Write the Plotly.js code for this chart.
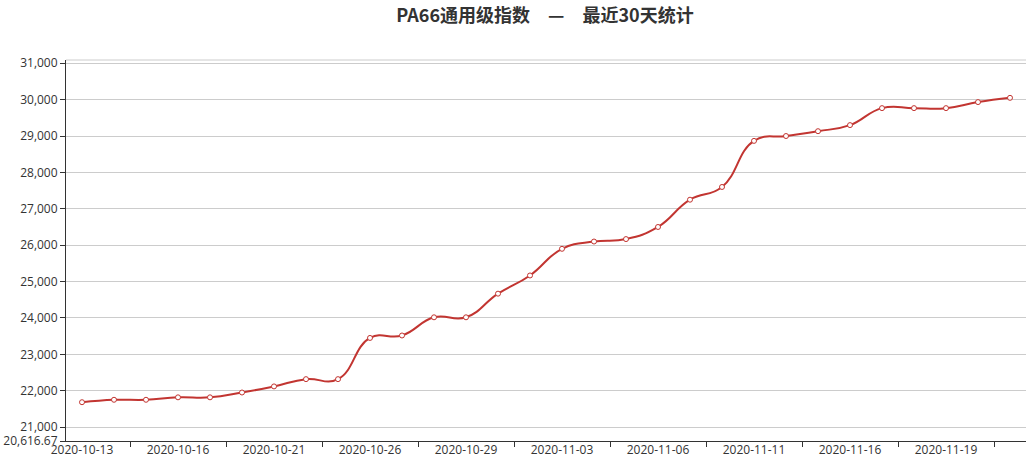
<!DOCTYPE html>
<html>
<head>
<meta charset="utf-8">
<script src="https://cdn.plot.ly/plotly-3.0.1.min.js"></script>
<style>html,body{margin:0;padding:0;background:#fff}#chart{width:1035px;height:466px}</style>
</head>
<body>
<div id="chart"></div>
<script>
const chartTitle = "PA66通用级指数　—　最近30天统计";
const dates = ["2020-10-13","2020-10-14","2020-10-15","2020-10-16","2020-10-19","2020-10-20",
  "2020-10-21","2020-10-22","2020-10-23","2020-10-26","2020-10-27","2020-10-28",
  "2020-10-29","2020-10-30","2020-11-02","2020-11-03","2020-11-04","2020-11-05",
  "2020-11-06","2020-11-09","2020-11-10","2020-11-11","2020-11-12","2020-11-13",
  "2020-11-16","2020-11-17","2020-11-18","2020-11-19","2020-11-20","2020-11-23"];
const indexValues = [21683,21750,21750,21817,21817,21950,22117,22317,22317,23450,
  23517,24017,24017,24667,25167,25900,26100,26167,26500,27250,
  27600,28867,29000,29133,29300,29767,29767,29767,29933,30050];
const yTickValues = [20616.67,21000,22000,23000,24000,25000,26000,27000,28000,29000,30000,31000];
const yTickLabels = ["20,616.67","21,000","22,000","23,000","24,000","25,000","26,000","27,000","28,000","29,000","30,000","31,000"];
const yMin = 20616.67, yMax = 31090;
const labelEvery = 3;

const idx = dates.map((d,i)=>i);
const labelPos = idx.filter(i => i % labelEvery === 0);
const labelText = labelPos.map(i => dates[i]);
const tickPos = idx.filter(i => i % labelEvery === 1).map(i => i + 0.5);

const titleFont = "'Microsoft YaHei','Noto Sans CJK SC',sans-serif";
const font = "'Open Sans','Noto Sans',sans-serif";
const trace = {
  x: idx, y: indexValues, type: 'scatter', mode: 'lines+markers',
  line: {color: '#c23531', width: 2, shape: 'spline', smoothing: 1.3},
  marker: {size: 5, color: '#ffffff', line: {color: '#c23531', width: 1}},
  hoverinfo: 'y'
};
const xr = [-0.5, dates.length - 0.5];
const layout = {
  width: 1035, height: 466,
  margin: {l: 66, r: 9, t: 60, b: 25.4},
  paper_bgcolor: '#fff', plot_bgcolor: '#fff',
  showlegend: false,
  title: {text: '<b>' + chartTitle + '</b>', x: 545/1035, xanchor: 'center', y: 0.967, yanchor: 'middle',
          font: {family: titleFont, size: 18, color: '#333'}},
  xaxis: {range: xr, tickmode: 'array', tickvals: tickPos, ticktext: tickPos.map(()=>''),
          showticklabels: false, ticks: 'outside', ticklen: 5, tickcolor: '#333', tickwidth: 1,
          showgrid: false, zeroline: false, showline: true, linecolor: '#333', linewidth: 1},
  xaxis2: {range: xr, overlaying: 'x', side: 'bottom', anchor: 'y', tickmode: 'array',
          tickvals: labelPos, ticktext: labelText, ticks: '', showgrid: false, zeroline: false,
          showline: false, tickfont: {family: font, size: 12, color: '#333'}},
  yaxis: {range: [yMin, yMax], tickmode: 'array', tickvals: yTickValues, ticktext: yTickLabels,
          ticks: 'outside', ticklen: 5, tickcolor: '#333', showline: true, linecolor: '#333', linewidth: 1,
          showgrid: true, gridcolor: '#ccc', gridwidth: 1, zeroline: false,
          tickfont: {family: font, size: 12, color: '#333'}},
  shapes: [{type: 'line', xref: 'paper', yref: 'paper', x0: 0, x1: 1, y0: 1, y1: 1,
            line: {color: '#ccc', width: 1}, layer: 'below'}]
};
const dummy = {x: [labelPos[0]], y: [indexValues[0]], xaxis: 'x2', yaxis: 'y', mode: 'markers',
  marker: {opacity: 0}, hoverinfo: 'skip'};
Plotly.newPlot('chart', [dummy, trace], layout, {displayModeBar: false, staticPlot: true});
</script>
</body>
</html>
